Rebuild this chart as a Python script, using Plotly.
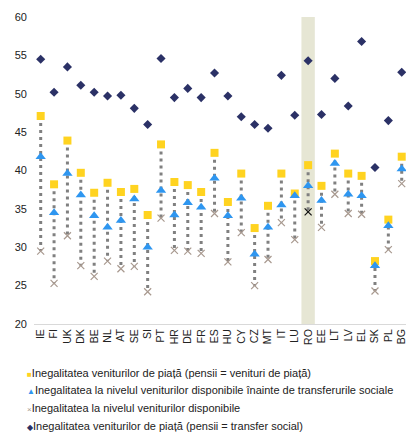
import plotly.graph_objects as go

countries = ["IE", "FI", "UK", "DK", "BE", "NL", "AT", "SE", "SI", "PT", "HR", "DE", "FR", "ES",
             "HU", "CY", "CZ", "MT", "IT", "LU", "RO", "EE", "LT", "LV", "EL", "SK", "PL", "BG"]

# Market income inequality (pensions = market income)
market_pens_market = [47.1, 38.2, 43.9, 39.7, 37.1, 38.4, 37.2, 37.6, 34.2, 43.4, 38.5, 38.1, 37.2, 42.3,
                      35.9, 39.6, 32.5, 35.4, 39.6, 37.0, 40.7, 38.0, 42.2, 39.6, 39.3, 28.2, 33.6, 41.8]
# Disposable income inequality before social transfers
before_transfers = [41.8, 34.5, 39.6, 36.8, 34.1, 32.6, 33.5, 36.3, 30.0, 37.4, 34.2, 35.8, 35.2, 39.0,
                    34.1, 36.4, 29.1, 32.6, 35.5, 36.7, 38.0, 36.1, 40.9, 36.9, 36.7, 27.6, 32.8, 40.2]
# Disposable income inequality
disposable = [29.5, 25.3, 31.5, 27.6, 26.2, 28.2, 27.2, 27.5, 24.2, 33.8, 29.6, 29.5, 29.2, 34.4,
              28.1, 31.9, 25.0, 28.4, 33.2, 31.0, 34.6, 32.6, 36.9, 34.4, 34.3, 24.3, 29.7, 38.3]
# Market income inequality (pensions = social transfer)
market_pens_transfer = [54.5, 50.2, 53.5, 51.1, 50.2, 49.7, 49.8, 48.1, 46.0, 54.6, 49.5, 50.7, 49.5, 52.7,
                        49.7, 47.0, 46.0, 45.5, 52.4, 47.2, 54.3, 47.3, 52.0, 48.4, 56.8, 40.4, 46.5, 52.8]

highlight = "RO"
y_ticks = [20, 25, 30, 35, 40, 45, 50, 55, 60]

legend_names = [
    "Inegalitatea veniturilor de piață (pensii = venituri de piață)",
    "Inegalitatea la nivelul veniturilor disponibile înainte de transferurile sociale",
    "Inegalitatea la nivelul veniturilor disponibile",
    "Inegalitatea veniturilor de piață (pensii = transfer social)",
]

SQUARE_C, TRI_C, CROSS_C, DIAM_C = "#FFD320", "#2E96F0", "#A8998F", "#2B3166"

fig = go.Figure()

# dotted connectors from market-income to disposable-income values
lx, ly = [], []
for c, top, bottom in zip(countries, market_pens_market, disposable):
    lx += [c, c, None]
    ly += [top, bottom, None]
fig.add_trace(go.Scatter(x=lx, y=ly, mode="lines", showlegend=False, hoverinfo="skip",
                         line=dict(color="#808080", width=3, dash="3px,4px")))

fig.add_trace(go.Scatter(x=countries, y=market_pens_market, mode="markers", name=legend_names[0],
                         marker=dict(symbol="square", size=8, color=SQUARE_C)))
fig.add_trace(go.Scatter(x=countries, y=before_transfers, mode="markers", name=legend_names[1],
                         marker=dict(symbol="triangle-up", size=9, color=TRI_C)))
cross_colors = ["#111111" if c == highlight else CROSS_C for c in countries]
fig.add_trace(go.Scatter(x=countries, y=disposable, mode="markers", name=legend_names[2],
                         marker=dict(symbol="x-thin-open", size=7, color=cross_colors,
                                     line=dict(width=1.2, color=cross_colors))))
fig.add_trace(go.Scatter(x=countries, y=market_pens_transfer, mode="markers", name=legend_names[3],
                         marker=dict(symbol="diamond", size=7, color=DIAM_C)))

hi = countries.index(highlight)
fig.add_shape(type="rect", xref="x", yref="y", x0=hi - 0.5, x1=hi + 0.5, y0=20, y1=60,
              fillcolor="#E6E6D4", line=dict(width=0), layer="below")

# legend rows below the axis: coloured glyph followed by the series name
legend_glyphs = [("■", SQUARE_C), ("▲", TRI_C), ("×", CROSS_C), ("◆", DIAM_C)]
legend_rows_y = [-0.1596, -0.2150, -0.2736, -0.3322]
for (glyph, color), name, yy in zip(legend_glyphs, legend_names, legend_rows_y):
    fig.add_annotation(
        xref="paper", yref="paper", x=-0.023, y=yy, xanchor="left", yanchor="middle",
        showarrow=False, align="left",
        text=f"<span style='color:{color};font-size:8px'>{glyph}</span>{name}",
        font=dict(size=11, color="#222222"),
    )

fig.update_layout(
    width=406, height=434,
    margin=dict(l=34, r=0, t=17, b=110),
    paper_bgcolor="white", plot_bgcolor="white",
    font=dict(family="Liberation Sans, Arial, sans-serif", size=11, color="#222222"),
    showlegend=False,
)
fig.update_xaxes(type="category", range=[-0.5, 27.32], tickangle=-90, showgrid=False,
                 showline=True, linecolor="#D9D9D9", linewidth=1, ticks="",
                 tickfont=dict(size=10.5, color="#222222"))
fig.update_yaxes(range=[20, 60], tickvals=y_ticks, showgrid=False, zeroline=False,
                 showline=False, ticks="", ticklabelstandoff=6,
                 tickfont=dict(size=11, color="#222222"))

fig.write_html("out.html")
